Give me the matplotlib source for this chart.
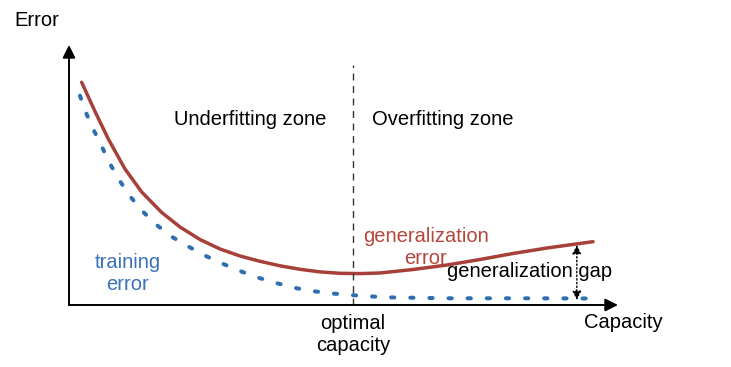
import numpy as np
import matplotlib.pyplot as plt

plt.rcParams['font.family'] = ['Liberation Sans', 'DejaVu Sans']

# curves (capacity, error), arbitrary units 0..10
gen_cap = [0.231, 0.474, 0.716, 1.020, 1.324, 1.689, 2.022, 2.386, 2.750, 3.115, 3.479, 3.843,
           4.208, 4.572, 4.936, 5.301, 5.665, 6.266, 6.885, 7.486, 8.087, 8.707, 9.545]
gen_err = [8.565, 7.442, 6.385, 5.231, 4.346, 3.558, 3.000, 2.519, 2.154, 1.885, 1.681, 1.508,
           1.373, 1.273, 1.219, 1.208, 1.231, 1.365, 1.538, 1.750, 1.981, 2.192, 2.435]

train_cap = [0.200, 0.322, 0.461, 0.607, 0.747, 0.929, 1.142, 1.353, 1.597, 1.871, 2.173, 2.477,
             2.781, 3.115, 3.419, 3.752, 4.086, 4.421, 4.754, 5.118, 5.756, 6.940, 8.215, 9.672]
train_err = [8.050, 7.335, 6.680, 6.050, 5.430, 4.760, 4.104, 3.577, 3.077, 2.627, 2.250, 1.900,
             1.604, 1.308, 1.069, 0.858, 0.670, 0.538, 0.450, 0.385, 0.295, 0.258, 0.258, 0.250]

optimal_cap = 5.17
gap_cap = 9.25
gap_low, gap_high = 0.19, 2.31

red = '#a8403a'
blue = '#2f6fb0'

fig = plt.figure(figsize=(7.31, 3.67), dpi=100)
ax = fig.add_axes([69 / 731, (367 - 305) / 367, 549 / 731, 260 / 367])
ax.set_xlim(0, 10)
ax.set_ylim(0, 10)
ax.axis('off')

# axes with arrows
ax.annotate('', xy=(10, 0), xytext=(0, 0), annotation_clip=False,
            arrowprops=dict(arrowstyle='-|>', color='black', lw=1.4,
                            mutation_scale=19, shrinkA=0, shrinkB=0))
ax.annotate('', xy=(0, 10), xytext=(0, 0), annotation_clip=False,
            arrowprops=dict(arrowstyle='-|>', color='black', lw=1.4,
                            mutation_scale=19, shrinkA=0, shrinkB=0))

ax.plot(gen_cap, gen_err, color=red, lw=2.5, solid_capstyle='round',
        solid_joinstyle='round')
ax.plot(train_cap, train_err, color=blue, lw=2.9, linestyle=(0, (0.8, 3.95)),
        dash_capstyle='round')

ax.plot([optimal_cap, optimal_cap], [0, 9.23], color='#333333', lw=1.0,
        linestyle=(0, (5, 4)))

ax.annotate('', xy=(gap_cap, gap_high), xytext=(gap_cap, gap_low),
            arrowprops=dict(arrowstyle='<|-|>', color='black', lw=1.0,
                            linestyle=':', mutation_scale=13,
                            shrinkA=0, shrinkB=0))

fs = 14.5
ax.text(-0.58, 10.96, 'Error', fontsize=fs, ha='center', va='center', clip_on=False)
ax.text(10.09, -0.69, 'Capacity', fontsize=fs, ha='center', va='center', clip_on=False)
ax.text(optimal_cap, -1.12, 'optimal\ncapacity', fontsize=fs, ha='center',
        va='center', linespacing=1.2, clip_on=False)
ax.text(3.30, 7.15, 'Underfitting zone', fontsize=fs, ha='center', va='center')
ax.text(6.81, 7.15, 'Overfitting zone', fontsize=fs, ha='center', va='center')
ax.text(1.07, 1.23, 'training\nerror', fontsize=fs, ha='center', va='center',
        color='#3a72b5', linespacing=1.2)
ax.text(6.5, 2.23, 'generalization\nerror', fontsize=fs, ha='center', va='center',
        color='#b5463c', linespacing=1.2)
ax.text(6.89, 1.27, 'generalization gap', fontsize=fs, ha='left', va='center')

plt.savefig('out.png', dpi=100)
